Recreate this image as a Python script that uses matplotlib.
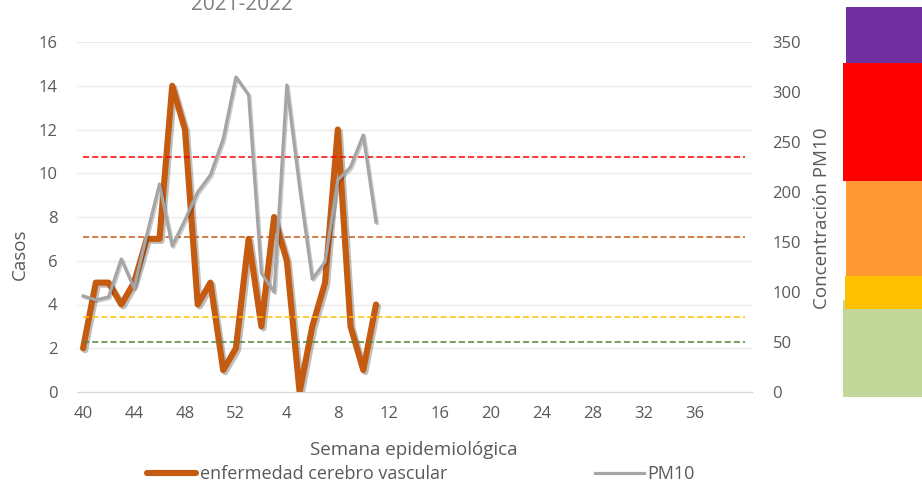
import numpy as np
import matplotlib
matplotlib.use("Agg")
import matplotlib.pyplot as plt
from matplotlib.patches import Rectangle
from matplotlib.lines import Line2D
import matplotlib.patheffects as pe

plt.rcParams['font.family'] = ['Open Sans', 'DejaVu Sans']

# --------------------- Data ------------------------
weeks = list(range(40, 53)) + list(range(1, 41))  # 53 categories
casos = [2, 5, 5, 4, 5, 7, 7, 14, 12, 4, 5, 1, 2,
         7, 3, 8, 6, 0, 3, 5, 12, 3, 1, 4]
pm10 = [96, 92, 95, 133, 104, 157, 208, 146, 172, 200, 217, 253, 315,
        297, 119, 100, 307, 205, 113, 130, 212, 225, 257, 170]
limits = [235, 155, 75, 50]
limit_colors = ["#FF0000", "#C55A11", "#FFC000", "#548235"]
tick_labels = [str(w) for w in weeks[:49:4]]

# colour scale boxes at right: (x0, y_top, y_bottom) in pixels, colour
scale_boxes = [
    (846, 7, 63, "#7030A0"),
    (843, 63, 181, "#FF0000"),
    (846, 181, 276, "#FF9933"),
    (843, 300, 397, "#C4D79B"),
    (845, 276, 309, "#FFC000"),
]

W, H = 922, 483
fig = plt.figure(figsize=(W / 100, H / 100), dpi=100)
ax = fig.add_axes([76.7 / W, (H - 392) / H, 675 / W, 350 / H])
ax2 = ax.twinx()

x = np.arange(len(weeks))
txt = "#595959"
fs = 12
fs_title = 13.5

# orange series on left axis
ax.plot(x[:len(casos)], casos, color="#C55A11", lw=4.4, solid_joinstyle="round",
        solid_capstyle="round",
        path_effects=[pe.SimpleLineShadow(offset=(1.5, -1.5), alpha=0.25), pe.Normal()])
ax.set_ylim(0, 16)
ax.set_yticks(range(0, 17, 2))
ax.set_xlim(-0.5, len(weeks) - 0.5)
ax.set_xticks(x[:49:4])
ax.set_xticklabels(tick_labels)
ax.grid(axis="y", color="#EBEBEB", lw=1)
ax.set_axisbelow(True)
for s in ["top", "left", "right"]:
    ax.spines[s].set_visible(False)
ax.spines["bottom"].set_color("#D4D4D4")
ax.tick_params(axis="both", length=0, labelsize=fs, colors=txt)
ax.tick_params(axis="x", pad=10)
ax.tick_params(axis="y", pad=14)

# PM10 and limits on right axis
for v, c in zip(limits, limit_colors):
    ax2.plot(x, [v] * len(x), color=c, lw=1.1, dashes=(4, 2))
ax2.plot(x[:len(pm10)], pm10, color="#A5A5A5", lw=2.3, solid_joinstyle="round",
         path_effects=[pe.SimpleLineShadow(offset=(1, -1), alpha=0.2), pe.Normal()])
ax2.set_ylim(0, 350)
ax2.set_yticks(range(0, 351, 50))
for s in ["top", "left", "right", "bottom"]:
    ax2.spines[s].set_visible(False)
ax2.tick_params(axis="y", length=0, labelsize=fs, colors=txt, pad=15)

# axis titles
fig.text(19.5 / W, 1 - 254 / H, "Casos", rotation=90, ha="center", va="center",
         fontsize=fs_title, color=txt)
fig.text(822 / W, 1 - 218 / H, "Concentración PM10", rotation=90, ha="center",
         va="center", fontsize=fs_title, color=txt)
fig.text(414 / W, 1 - 450 / H, "Semana epidemiológica", ha="center", va="center",
         fontsize=fs_title, color=txt)
fig.text(242 / W, 1 - 10 / H, "2021-2022", ha="center", va="baseline",
         fontsize=15, color="#808080")

# colour scale
for x0, yt, yb, c in scale_boxes:
    fig.add_artist(Rectangle((x0 / W, 1 - yb / H), (W - x0) / W, (yb - yt) / H,
                             transform=fig.transFigure, color=c, lw=0))

# legend
handles = [Line2D([], [], color="#C55A11", lw=4.4, solid_capstyle="round"),
           Line2D([], [], color="#A5A5A5", lw=2.3)]
fig.legend(handles, ["enfermedad cerebro vascular", "PM10"], loc="center",
           bbox_to_anchor=(421 / W, 1 - 474 / H), ncol=2, frameon=False,
           fontsize=13, labelcolor=txt, handlelength=2.7, handletextpad=0.2,
           columnspacing=8.2)

fig.savefig("out.png", dpi=100)
